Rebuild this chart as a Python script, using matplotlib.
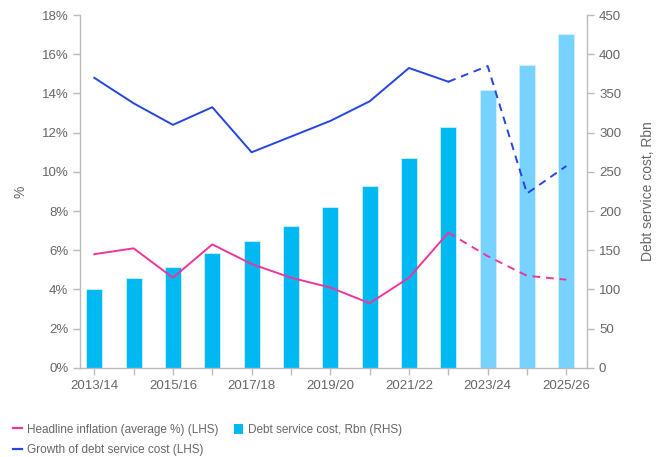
import matplotlib.pyplot as plt
from matplotlib.lines import Line2D
from matplotlib.patches import Patch

years = ['2013/14', '2014/15', '2015/16', '2016/17', '2017/18', '2018/19', '2019/20',
         '2020/21', '2021/22', '2022/23', '2023/24', '2024/25', '2025/26']
debt_cost = [101, 115, 129, 146, 162, 181, 205, 232, 268, 307, 354, 386, 426]
inflation = [5.8, 6.1, 4.6, 6.3, 5.3, 4.6, 4.1, 3.3, 4.6, 6.9, 5.7, 4.7, 4.5]
growth = [14.8, 13.5, 12.4, 13.3, 11.0, 11.8, 12.6, 13.6, 15.3, 14.6, 15.4, 8.9, 10.3]
first_proj = 9  # 2022/23 onwards dashed, bars from 2023/24 lighter

PINK = '#F0359A'
BLUE = '#2445E6'
BAR_DARK = '#00B9F2'
BAR_LIGHT = '#78D2FF'
GREY = '#666666'
SPINE = '#BBBBBB'

plt.rcParams['font.family'] = ['Liberation Sans', 'DejaVu Sans']

fig = plt.figure(figsize=(6.62, 4.57), dpi=100)
ax = fig.add_axes([0.121, 0.195, 0.766, 0.772])
ax2 = ax.twinx()

x = list(range(len(years)))
colors = [BAR_DARK if i <= first_proj else BAR_LIGHT for i in x]
ax2.bar(x, debt_cost, width=0.41, color=colors, edgecolor='#CFF1FF', linewidth=0.6, zorder=1)
ax2.set_ylim(0, 450)
ax2.set_yticks(range(0, 451, 50))

# lines on top of bars
ax.set_zorder(ax2.get_zorder() + 1)
ax.patch.set_visible(False)
ax.plot(x[:first_proj + 1], inflation[:first_proj + 1], color=PINK, lw=1.4)
ax.plot(x[first_proj:], inflation[first_proj:], color=PINK, lw=1.4, ls=(0, (4, 3)))
ax.plot(x[:first_proj + 1], growth[:first_proj + 1], color=BLUE, lw=1.4)
ax.plot(x[first_proj:], growth[first_proj:], color=BLUE, lw=1.4, ls=(0, (4, 3)))

ax.set_ylim(0, 18)
ax.set_yticks(range(0, 19, 2))
ax.set_yticklabels([f'{v}%' for v in range(0, 19, 2)])
ax.set_xlim(-0.36, 12.53)
ax.set_xticks(x)
ax.set_xticklabels([y if i % 2 == 0 else '' for i, y in enumerate(years)])

for a in (ax, ax2):
    a.spines['top'].set_visible(False)
    for s in ('left', 'right', 'bottom'):
        a.spines[s].set_color(SPINE)
        a.spines[s].set_linewidth(1.0)
    a.tick_params(colors=SPINE, labelcolor=GREY, labelsize=9.5, length=5, width=1)
ax2.spines['left'].set_visible(False)
ax2.spines['bottom'].set_visible(False)
ax.spines['right'].set_visible(False)

ax.set_ylabel('%', color=GREY, fontsize=10, labelpad=10)
ax2.set_ylabel('Debt service cost, Rbn', color=GREY, fontsize=10, labelpad=14)

handles = [
    Line2D([], [], color=PINK, lw=1.6),
    Line2D([], [], color=BLUE, lw=1.6),
    Patch(facecolor=BAR_DARK, edgecolor='none'),
]
labels = ['Headline inflation (average %) (LHS)', 'Growth of debt service cost (LHS)',
          'Debt service cost, Rbn (RHS)']
leg = fig.legend(handles, labels, ncol=2, loc='upper left', bbox_to_anchor=(0.012, 0.083),
                 frameon=False, handlelength=0.8, handleheight=0.9,
                 handletextpad=0.4, columnspacing=1.3, labelspacing=0.7, borderaxespad=0,
                 fontsize=8.5)
for t in leg.get_texts():
    t.set_color(GREY)

fig.savefig('out.png', dpi=100)
